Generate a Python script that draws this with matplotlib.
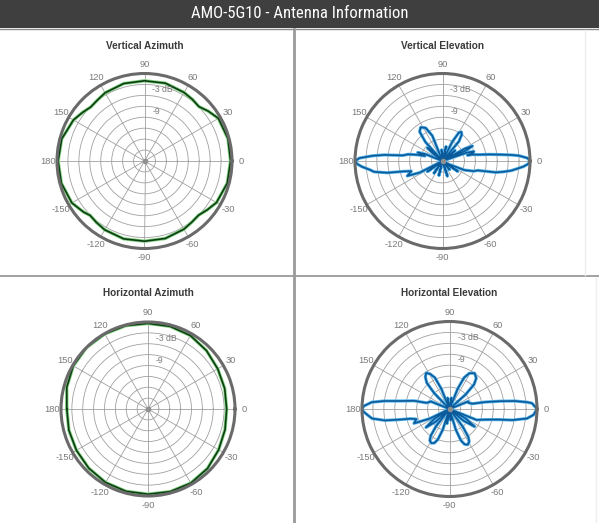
import numpy as np
import matplotlib
matplotlib.use("Agg")
import matplotlib.pyplot as plt
from matplotlib import font_manager
from matplotlib.patches import Rectangle
from matplotlib.lines import Line2D

# ---------------- data (angle in degrees, gain in dB) ----------------
header_text = "AMO-5G10 - Antenna Information"
titles = ["Vertical Azimuth", "Vertical Elevation", "Horizontal Azimuth", "Horizontal Elevation"]
theta_ticks = [0, 30, 60, 90, 120, 150, 180, -150, -120, -90, -60, -30]
ring_db = [-3, -6, -9, -12, -15, -18, -21]

va_deg = [-180, -165, -150, -140, -135, -128, -120, -105, -90, -75, -60, -52, -45, -38, -30, -15,
          0, 15, 30, 38, 45, 52, 60, 75, 90, 105, 120, 128, 135, 142, 150, 165, 180]
va_db = [-0.3, -0.4, -1.0, -2.2, -2.9, -2.6, -2.2, -1.9, -2.0, -2.0, -2.4, -2.8, -3.0, -2.2, -1.2, -0.5,
         -0.4, -0.3, -0.6, -1.8, -2.9, -2.6, -2.3, -1.9, -2.0, -2.0, -2.4, -2.9, -3.1, -2.4, -1.5, -0.5, -0.3]

ha_deg = [-180, -165, -150, -135, -120, -105, -90, -75, -60, -45, -30, -15,
          0, 15, 30, 45, 60, 75, 90, 105, 120, 135, 150, 165, 180]
ha_db = [-1.6, -1.4, -1.2, -0.9, -0.6, -0.5, -0.5, -0.4, -0.4, -0.8, -1.5, -2.0,
         -2.3, -2.1, -1.8, -1.2, -0.6, -0.4, -0.4, -0.2, -0.1, 0.0, -0.2, -0.8, -1.6]

ve_deg = [-180, -178, -176, -173, -171, -168, -165, -162, -157, -153, -150, -145, -140,
          -130, -125, -120, -110, -104, -98, -76, -72, -68, -55, -50, -45, -38, -34, -30,
          -27, -22.5, -18, -15, -12, -10, -8, -6, -4, -2,
          0, 2, 4, 5, 6.3, 8, 10, 12, 13, 15, 17, 19, 21, 24, 26.6, 29, 32, 37, 40, 43,
          46, 50, 54, 57, 60, 63, 67, 72, 76, 80, 90, 95, 100,
          108, 112, 117, 123, 128, 132, 134, 136, 139, 142, 145, 155, 158, 161, 164,
          166, 169, 172, 174, 175.7, 178, 180]
ve_db = [0, -0.6, -1.8, -4.0, -5.0, -8.5, -13, -15, -13.5, -17, -24, -19, -24,
         -24, -20, -24, -24, -20, -24, -24, -19.7, -24, -24, -21, -24, -24, -19, -24,
         -22, -17.5, -15, -14, -9, -7, -5, -3.5, -1.8, -0.5,
         0, -0.7, -3, -5, -8, -11, -14, -15.5, -17, -15.3, -15, -17, -24, -17, -14.8, -17, -24, -21, -19.5, -24,
         -24, -17, -15, -14.5, -15, -18, -24, -24, -20, -24, -24, -21, -24,
         -24, -16.5, -13.8, -13, -13.8, -17, -24, -21, -18.5, -21, -24, -24, -19, -16.8, -19,
         -17, -14.4, -13, -8, -4.8, -1.2, 0]

he_deg = [-180, -178, -175, -173, -170, -168, -166, -163, -158, -154, -151, -147, -142, -137,
          -132, -128, -125, -122, -118, -114, -111, -108, -105,
          -100, -96, -88, -84, -80,
          -76, -73, -70, -67, -63, -59, -56, -53, -50,
          -40, -35, -30, -27, -22, -17, -14, -12, -10, -7, -4,
          0, 4, 5, 7, 8.8, 11, 13, 15, 18, 22, 25,
          40, 42, 45, 49, 55, 61, 65, 68, 70,
          80, 85, 95, 100, 106,
          110, 112, 115, 119, 123, 127, 131, 134, 137,
          158, 162, 165, 167, 171, 173, 175, 178, 180]
he_db = [0, -0.5, -1.8, -2.6, -6, -10, -13, -14.5, -13.5, -18, -24, -19, -15.8, -19,
         -24, -18, -15, -13.8, -13.4, -13.8, -15, -18, -24,
         -20, -24, -24, -21, -24,
         -24, -18, -14.8, -13.5, -13, -13.5, -14.8, -18, -24,
         -19, -15.6, -19, -24, -16, -14, -12, -10, -6.5, -2.6, -0.9,
         0, -1.3, -2.6, -6, -10, -14, -17.5, -18, -18.5, -18.5, -24,
         -24, -18, -14.5, -12.8, -12, -12.8, -14.5, -18, -24,
         -21, -24, -24, -21, -24,
         -24, -18, -14.5, -13, -12.2, -13, -14.5, -18, -24,
         -18.5, -18, -17.5, -14, -10, -6, -2.6, -0.5, 0]

# ---------------- styling ----------------
names = {f.name for f in font_manager.fontManager.ttflist}
base_font = "Liberation Sans" if "Liberation Sans" in names else "DejaVu Sans"
hdr_font = base_font
for cand in ["Liberation Sans Narrow", "Roboto Condensed", "DejaVu Sans Condensed"]:
    if cand in names:
        hdr_font = cand
        break
plt.rcParams["font.family"] = [base_font, "DejaVu Sans"]

W, H = 599, 523
fig = plt.figure(figsize=(W / 100, H / 100), dpi=100)
fig.patch.set_facecolor("white")

# header bar
fig.add_artist(Rectangle((0, 1 - 28 / H), 1, 28 / H, transform=fig.transFigure,
                         facecolor="#3f3f3f", edgecolor="none"))
fig.add_artist(Line2D([0, 1], [1 - 28.5 / H] * 2, transform=fig.transFigure, color="#8a8a8a", lw=1))
fig.text(300 / W, 1 - 14 / H, header_text, color="white", fontsize=12 if hdr_font != base_font else 10,
         family=hdr_font, ha="center", va="center")

# panel dividers
fig.add_artist(Line2D([294 / W] * 2, [0, 1 - 29 / H], transform=fig.transFigure, color="#9a9a9a", lw=2))
fig.add_artist(Line2D([0, 1], [1 - 276 / H] * 2, transform=fig.transFigure, color="#9a9a9a", lw=1.3))
fig.add_artist(Line2D([585 / W] * 2, [1 - 275 / H, 1 - 30 / H], transform=fig.transFigure, color="#eeeeee", lw=1))
fig.add_artist(Line2D([596 / W] * 2, [0, 1 - 278 / H], transform=fig.transFigure, color="#eeeeee", lw=1))

# (center x, center y, radius) in pixels, title y
layout = [(144.5, 161, 87.5, 46), (442.5, 161, 87.5, 46), (148, 409, 87, 293), (449.5, 409, 87.5, 293)]
series = [(va_deg, va_db, "green"), (ve_deg, ve_db, "blue"),
          (ha_deg, ha_db, "green"), (he_deg, he_db, "blue")]

for (cx, cy, rad, ty), (deg, db, kind), title in zip(layout, series, titles):
    ax = fig.add_axes([(cx - rad) / W, 1 - (cy + rad) / H, 2 * rad / W, 2 * rad / H], projection="polar")
    ax.set_facecolor("white")
    ax.spines["polar"].set_color("#6a6a6a")
    ax.spines["polar"].set_linewidth(2.2)
    ax.set_xticks(np.radians(np.mod(theta_ticks, 360)))
    ax.set_xticklabels([])
    ax.set_yticks(ring_db)
    ax.set_yticklabels([])
    ax.grid(True, color="#a0a0a0", lw=0.6)
    ax.tick_params(length=0)

    th = np.radians(deg)
    if kind == "green":
        ax.plot(th, db, color="#7fd07f", lw=2.4, solid_joinstyle="round")
        ax.plot(th, db, color="#0d3d12", lw=1.2, solid_joinstyle="round")
    else:
        ax.plot(th, db, color="#56b4ea", lw=2.3, solid_joinstyle="round")
        ax.plot(th, db, color="#0b5a9a", lw=1.2, solid_joinstyle="round")
    ax.plot([0], [-24], marker="o", ms=3, color="#909090")
    ax.set_xlim(0, 2 * np.pi)
    ax.set_ylim(-24, 0)

    for t in theta_ticks:
        ax.text(np.radians(t), 2.5, str(t), color="#7a7a7a", fontsize=6.7,
                ha="center", va="center", clip_on=False)
    ax.annotate("-3 dB", xy=(np.pi / 2, -3), xytext=(8, -1), textcoords="offset pixels",
                color="#7a7a7a", fontsize=6.2, ha="left", va="top")
    ax.annotate("-9", xy=(np.pi / 2, -9), xytext=(8, -1), textcoords="offset pixels",
                color="#7a7a7a", fontsize=6.2, ha="left", va="top")

    fig.text(cx / W, 1 - ty / H, title, color="#3a3a3a", fontsize=7.2, fontweight="bold",
             ha="center", va="center")

fig.savefig("out.png", dpi=100)
